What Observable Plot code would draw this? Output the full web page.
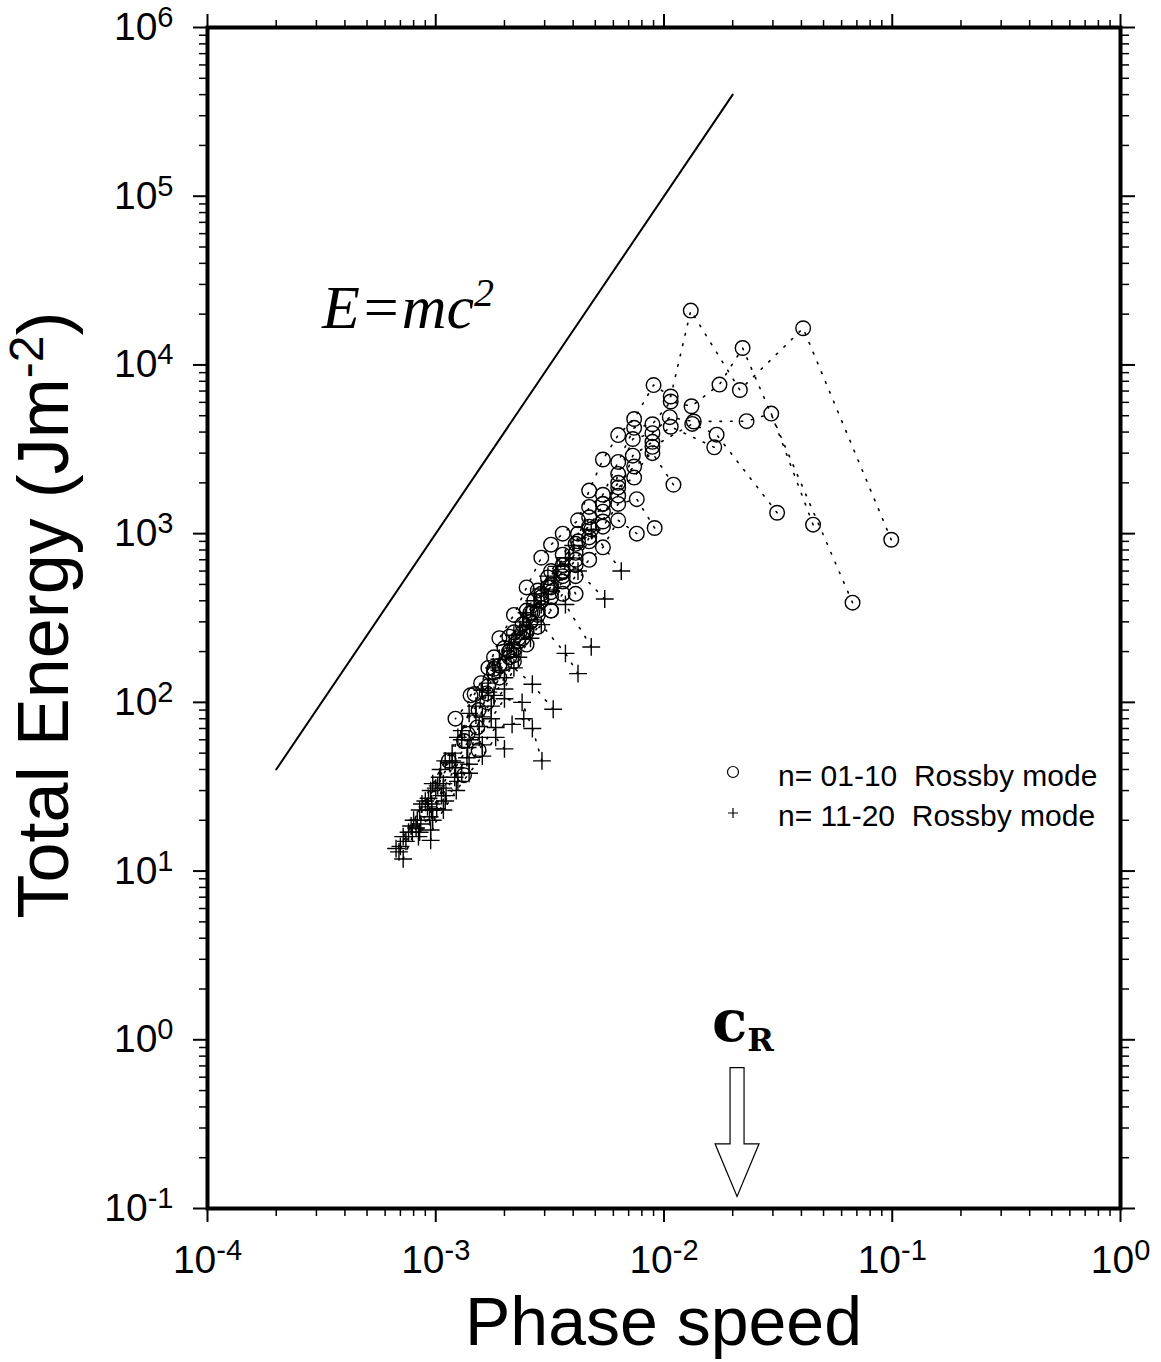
<!DOCTYPE html>
<html><head><meta charset="utf-8">
<script src="https://cdn.jsdelivr.net/npm/d3@7"></script>
<script src="https://cdn.jsdelivr.net/npm/@observablehq/plot@0.6"></script>
<style>html,body{margin:0;padding:0;background:#fff;} #chart{width:1161px;height:1362px;}</style>
</head><body><div id="chart"></div>
<script>
// ---- Data: [phase speed c, total energy E] per meridional mode, ordered from zonal wavenumber 1 ----
// Rossby modes n = 01-10 (circles)
const n01 = [[0.099,920],[0.0407,16500],[0.0215,7100],[0.0131,21000],[0.0107,6500],[0.0090,7600],[0.0074,4780],[0.0063,3840],[0.0054,2750],[0.0047,1800],[0.0042,1200],[0.0036,1000],[0.0032,860],[0.0029,720],[0.0025,480],[0.0022,330],[0.0019,240],[0.0017,160],[0.00148,112],[0.00122,80]];
const n02 = [[0.067,390],[0.0221,12600],[0.0175,7650],[0.0132,5690],[0.0107,6070],[0.0089,4450],[0.0074,4240],[0.0063,2660],[0.0054,1700],[0.0047,1440],[0.0041,870],[0.0036,650],[0.0031,550],[0.0027,400],[0.0024,290],[0.0021,245],[0.0018,185],[0.00158,130],[0.00142,110],[0.00133,59],[0.00114,45]];
const n03 = [[0.045,1130],[0.0295,5150],[0.023,4640],[0.0135,4620],[0.0106,4900],[0.0089,3940],[0.0073,3640],[0.0063,2260],[0.0054,1180],[0.0047,1250],[0.0042,900],[0.0036,590],[0.0031,480],[0.00265,340],[0.0024,240],[0.0021,200],[0.0018,150],[0.00167,113],[0.00152,71],[0.00133,37]];
const n04 = [[0.0313,1330],[0.0170,3860],[0.0133,4470],[0.0089,3270],[0.0074,2150],[0.0063,1880],[0.0054,1500],[0.0048,1060],[0.0041,770],[0.0036,600],[0.0032,480],[0.0029,440],[0.0026,300],[0.0023,230],[0.0020,170],[0.0017,125],[0.00154,90],[0.00138,65]];
const n05 = [[0.0166,3250],[0.0107,4300],[0.0089,3500],[0.0073,2900],[0.0063,1680],[0.0054,1350],[0.0047,950],[0.0041,650],[0.0036,520],[0.0032,420],[0.0028,330],[0.0025,260],[0.0022,190],[0.0019,140],[0.00168,100],[0.00154,52]];
const n06 = [[0.011,1950],[0.0089,3000],[0.0074,2500],[0.0063,2000],[0.0054,1500],[0.0047,1100],[0.0042,1000],[0.0036,750],[0.0032,600],[0.0028,460],[0.0025,350],[0.0022,260],[0.0020,210],[0.0018,158]];
const n07 = [[0.0091,1080],[0.0076,1600],[0.0063,1500],[0.0054,1100],[0.0047,900],[0.0041,700],[0.0036,560],[0.0032,450],[0.0028,350],[0.0025,270],[0.0022,205],[0.0019,165]];
const n08 = [[0.0076,1000],[0.0063,1200],[0.0054,830],[0.0047,700],[0.0041,560],[0.0036,440],[0.0032,350],[0.0028,280],[0.0025,220],[0.0022,175]];
const n09 = [[0.0041,440],[0.0036,600],[0.0032,500],[0.0029,400],[0.0026,300],[0.0023,240],[0.0021,185]];
const n10 = [[0.0032,350],[0.0029,420],[0.0026,340],[0.0024,260],[0.0021,200]];
// Rossby modes n = 11-20 (plus signs)
const n11 = [[0.0065,600],[0.0048,1060],[0.0040,850],[0.0034,640],[0.0029,470],[0.0025,340],[0.0022,250],[0.0019,180],[0.0017,130],[0.0015,95],[0.0013,68],[0.00118,50],[0.00104,36],[0.00093,27],[0.00083,20],[0.00074,15],[0.00067,13.6]];
const n12 = [[0.0055,410],[0.0042,600],[0.0037,720],[0.0031,560],[0.0027,400],[0.0024,300],[0.0021,220],[0.0018,160],[0.0016,118],[0.0014,86],[0.00125,62],[0.0011,45],[0.00097,33],[0.00087,25],[0.00078,18.5],[0.0007,14]];
const n13 = [[0.0048,213],[0.0037,380],[0.0033,530],[0.0029,380],[0.0025,280],[0.0022,210],[0.0019,155],[0.0017,115],[0.0015,84],[0.0013,60],[0.00115,44],[0.00102,32],[0.00092,24],[0.00082,18],[0.00072,11.8]];
const n14 = [[0.0042,148],[0.0037,195],[0.0029,289],[0.0026,240],[0.0023,185],[0.0020,140],[0.0018,110],[0.0016,82],[0.0014,60],[0.00122,44],[0.00108,33],[0.00096,25],[0.00086,19],[0.00079,17]];
const n15 = [[0.00327,91],[0.00265,128],[0.0022,160],[0.0020,120],[0.00175,95],[0.00155,72],[0.00138,54],[0.00122,41],[0.00108,31],[0.00096,23],[0.00085,17]];
const n16 = [[0.00292,45],[0.00265,70],[0.00239,100],[0.0020,105],[0.00175,80],[0.00155,62],[0.00137,47],[0.00121,36],[0.00106,28],[0.00094,21],[0.00084,16]];
const n17 = [[0.00243,80],[0.00216,74],[0.00183,71],[0.0016,56],[0.0014,43],[0.00125,34],[0.0011,26],[0.00097,20]];
const n18 = [[0.0020,53],[0.00183,62],[0.0016,48],[0.0014,38],[0.00123,30],[0.00108,23],[0.00095,17.5]];
const n19 = [[0.00095,15.2],[0.00101,23.4],[0.00111,28],[0.001,31],[0.0009,26],[0.0008,20],[0.00072,16]];
const n20 = [[0.0013,38],[0.00118,45],[0.00105,40],[0.00095,30],[0.00085,23],[0.00076,17],[0.00069,13]];

// Reference line E = m c^2 (end points)
const mcC = [0.0002, 0.02];
const mcE = [40, 400000];

// Rossby phase speed marker
const cR = 0.021;

// Axis ticks
const xMajor = [1e-4, 1e-3, 1e-2, 1e-1, 1];
const yMajor = [1e-1, 1, 1e1, 1e2, 1e3, 1e4, 1e5, 1e6];
const minorMult = [2,3,4,5,6,7,8,9];
const legendLabels = ["n= 01-10  Rossby mode", "n= 11-20  Rossby mode"];

// ---- Build tables ----
const circleSets = {n01,n02,n03,n04,n05,n06,n07,n08,n09,n10};
const plusSets = {n11,n12,n13,n14,n15,n16,n17,n18,n19,n20};
const toRows = (sets, kind) => Object.entries(sets).flatMap(([n, arr]) => arr.map(([c, E], k) => ({n, k: k+1, c, E, kind})));
const circleRows = toRows(circleSets, "circle");
const plusRows = toRows(plusSets, "plus");
const allRows = circleRows.concat(plusRows);
const mcRows = mcC.map((c, i) => ({c, E: mcE[i]}));
const xMinor = xMajor.slice(0, -1).flatMap(d => minorMult.map(m => d*m));
const yMinor = yMajor.slice(0, -1).flatMap(d => minorMult.map(m => d*m));
const expFmt = d => "10^" + Math.round(Math.log10(d));
const none = () => "";

const fig = Plot.plot({
  width: 1161, height: 1362,
  marginLeft: 207, marginRight: 41, marginTop: 27, marginBottom: 154,
  style: {fontFamily: "'Liberation Sans', Arial, Helvetica, sans-serif", background: "#fff", color: "#000", overflow: "visible"},
  x: {type: "log", domain: [1e-4, 1], label: null},
  y: {type: "log", domain: [0.1, 1e6], label: null},
  marks: [
    Plot.line(mcRows, {x: "c", y: "E", stroke: "#000", strokeWidth: 2}),
    Plot.line(allRows, {x: "c", y: "E", z: "n", stroke: "#000", strokeWidth: 1.6, strokeDasharray: "1.6,9"}),
    Plot.dot(circleRows, {x: "c", y: "E", r: 7.3, stroke: "#000", strokeWidth: 1.4, fill: "none"}),
    Plot.dot(plusRows, {x: "c", y: "E", symbol: "plus", r: 5.8, stroke: "#000", strokeWidth: 1.4}),
    Plot.axisX({anchor: "bottom", ticks: xMajor, tickSize: 14, tickPadding: 23, fontSize: 39, strokeWidth: 2, tickFormat: expFmt, label: null}),
    Plot.axisX({anchor: "bottom", ticks: xMinor, tickSize: 8, tickFormat: none, strokeWidth: 1.5, label: null}),
    Plot.axisX({anchor: "top", ticks: xMajor, tickSize: 14, tickFormat: none, strokeWidth: 2, label: null}),
    Plot.axisX({anchor: "top", ticks: xMinor, tickSize: 8, tickFormat: none, strokeWidth: 1.5, label: null}),
    Plot.axisY({anchor: "left", ticks: yMajor, tickSize: 14, tickPadding: 20, fontSize: 39, strokeWidth: 2, tickFormat: expFmt, label: null}),
    Plot.axisY({anchor: "left", ticks: yMinor, tickSize: 8, tickFormat: none, strokeWidth: 1.5, label: null}),
    Plot.axisY({anchor: "right", ticks: yMajor, tickSize: 14, tickFormat: none, strokeWidth: 2, label: null}),
    Plot.axisY({anchor: "right", ticks: yMinor, tickSize: 8, tickFormat: none, strokeWidth: 1.5, label: null}),
    Plot.frame({stroke: "#000", strokeWidth: 4})
  ]
});
document.getElementById("chart").appendChild(fig);

// ---- Post-processing: superscripts, annotations, titles, legend ----
const svg = d3.select(fig.tagName.toLowerCase() === "svg" ? fig : fig.querySelector("svg"));
svg.selectAll("text").each(function() {
  const m = /^10\^(-?\d+)$/.exec(this.textContent);
  if (m) {
    const t = d3.select(this);
    t.text("");
    t.append("tspan").text("10");
    t.append("tspan").attr("dy", -13).attr("font-size", 29).text(m[1]);
  }
});
const sx = fig.scale("x"), sy = fig.scale("y");
const X = v => sx.apply(v), Y = v => sy.apply(v);
const sans = "'Liberation Sans', Arial, Helvetica, sans-serif";

// Axis titles
svg.append("text").attr("x", 663.5).attr("y", 1345).attr("text-anchor", "middle")
  .attr("font-family", sans).attr("font-size", 68).attr("fill", "#000").text("Phase speed");
const yt = svg.append("text").attr("transform", "translate(68,615) rotate(-90)").attr("text-anchor", "middle")
  .attr("font-family", sans).attr("font-size", 72).attr("fill", "#000");
yt.append("tspan").text("Total Energy (Jm");
yt.append("tspan").attr("dy", -25).attr("font-size", 48).text("-2");
yt.append("tspan").attr("dy", 25).text(")");

// E = mc^2 annotation
const eq = svg.append("text").attr("x", X(3.19e-4)).attr("y", Y(1.64e4)).attr("text-anchor", "start")
  .attr("font-family", "'Liberation Serif', 'DejaVu Serif', serif").attr("font-style", "italic")
  .attr("font-size", 62).attr("fill", "#000");
eq.append("tspan").text("E=mc");
eq.append("tspan").attr("dy", -22).attr("font-size", 40).text("2");

// c_R arrow
const ax = X(cR), yTop = Y(0.68), yNeck = Y(0.24), yTip = Y(0.117);
svg.append("path")
  .attr("d", `M${ax-7},${yTop}H${ax+7}V${yNeck}H${ax+22}L${ax},${yTip}L${ax-22},${yNeck}H${ax-7}Z`)
  .attr("fill", "#fff").attr("stroke", "#000").attr("stroke-width", 1.2);
const cr = svg.append("text").attr("x", ax - 25).attr("y", yTop - 27).attr("text-anchor", "start")
  .attr("font-family", "'DejaVu Serif', 'Liberation Serif', serif").attr("font-weight", "bold").attr("fill", "#000");
cr.append("tspan").attr("font-size", 58).text("c");
cr.append("tspan").attr("font-size", 32).attr("dy", 10).text("R");

// Legend
const lg = svg.append("g").attr("font-family", sans).attr("font-size", 30).attr("fill", "#000").attr("text-anchor", "start");
lg.append("circle").attr("cx", 733).attr("cy", 772).attr("r", 5.5).attr("fill", "none").attr("stroke", "#000").attr("stroke-width", 1.2);
lg.append("path").attr("d", "M728,813H738M733,808V818").attr("stroke", "#000").attr("stroke-width", 1.2);
lg.append("text").attr("x", 778).attr("y", 786).style("white-space", "pre").text(legendLabels[0]);
lg.append("text").attr("x", 778).attr("y", 826).style("white-space", "pre").text(legendLabels[1]);
</script>
</body></html>
